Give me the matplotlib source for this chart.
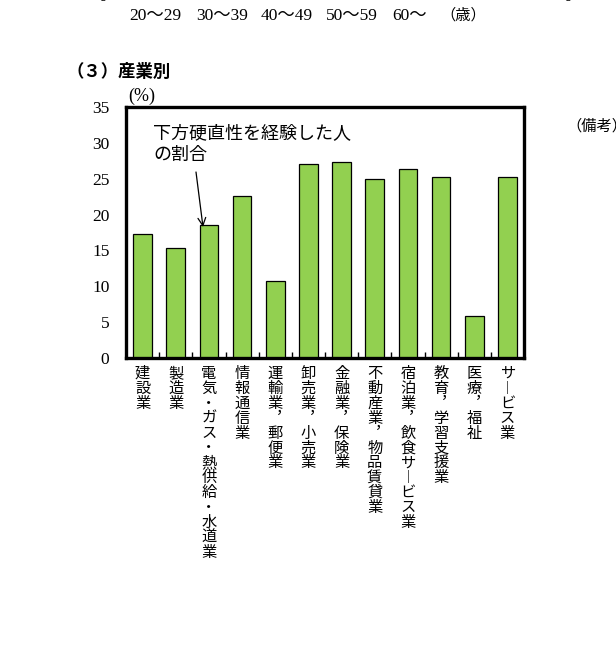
import matplotlib
matplotlib.use("Agg")
import matplotlib.pyplot as plt
import numpy as np

# ---- data ----
industries = ["建設業", "製造業", "電気・ガス・熱供給・水道業", "情報通信業",
              "運輸業，郵便業", "卸売業，小売業", "金融業，保険業",
              "不動産業，物品賃貸業", "宿泊業，飲食サービス業",
              "教育，学習支援業", "医療，福祉", "サービス業"]
share = [17.3, 15.3, 18.6, 22.6, 10.8, 27.0, 27.3, 25.0, 26.3, 25.3, 5.9, 25.3]
yticks = [0, 5, 10, 15, 20, 25, 30, 35]
age_labels = ["20～29", "30～39", "40～49", "50～59", "60～"]

CJK = ["Noto Sans CJK JP", "DejaVu Sans"]
SERIF = ["Liberation Serif", "Noto Sans CJK JP", "DejaVu Serif"]

W, H = 616, 649
fig = plt.figure(figsize=(W / 100, H / 100), dpi=100)

def fx(px):
    return px / W

def fy(py):
    return 1 - py / H

ax = fig.add_axes([fx(126), fy(358), fx(524) - fx(126), fy(107) - fy(358)])

x = np.arange(len(share))
ax.bar(x, share, width=0.56, color="#92D050", edgecolor="black", linewidth=0.9, zorder=2)
ax.set_xlim(-0.5, len(share) - 0.5)
ax.set_ylim(0, 35)
ax.set_yticks(yticks)
ax.set_yticklabels([str(v) for v in yticks], family=SERIF, fontsize=12.5)
ax.tick_params(axis="y", length=0, pad=12)
ax.set_xticks([])
ax.set_xticks(np.arange(0.5, len(share) - 0.5, 1.0), minor=True)
ax.tick_params(axis="x", which="minor", direction="in", length=4, width=1.0)
for s in ax.spines.values():
    s.set_linewidth(2.4)

# vertical category labels: one multi-line text per category,
# with line spacing solved so the character pitch is ~14.9 px
VMAP = {"，": "︐", "ー": "︱"}
def vert(s):
    return "\n".join(VMAP.get(c, c) for c in s)

LABEL_FS = 11
PITCH_PX = 14.9
renderer = fig.canvas.get_renderer()

def measure(ls, n=13):
    t = fig.text(0.5, 0.5, "\n".join(["建"] * n), family=CJK, fontsize=LABEL_FS,
                 linespacing=ls)
    h = t.get_window_extent(renderer).height
    t.remove()
    return h

h1, h2 = measure(1.0), measure(2.0)
h1b = measure(1.0, 12)
h2b = measure(2.0, 12)
step1, step2 = h1 - h1b, h2 - h2b
ls = 1.0 + (PITCH_PX - step1) / (step2 - step1)

for i, lab in enumerate(industries):
    ax.annotate(vert(lab), xy=(i, 0), xycoords=("data", "axes fraction"),
                xytext=(0, -7 * 0.72), textcoords="offset points",
                ha="center", va="top", family=CJK, fontsize=LABEL_FS,
                linespacing=ls, annotation_clip=False)

# annotation
fig.text(fx(153), fy(124), "下方硬直性を経験した人\nの割合", ha="left", va="top",
         family=CJK, fontsize=13, linespacing=1.25)
ax.annotate("", xy=(fx(203), fy(227)), xycoords="figure fraction",
            xytext=(fx(196), fy(172)), textcoords="figure fraction",
            arrowprops=dict(arrowstyle="->", color="black", lw=0.9,
                            mutation_scale=14, shrinkA=0, shrinkB=0))

# titles and surrounding texts
fig.text(fx(67), fy(72), "（３）産業別", ha="left", va="center", family=CJK,
         fontsize=12.5, fontweight="bold")
fig.text(fx(142), fy(96), "(%)", ha="center", va="center", family=SERIF, fontsize=13)
fig.text(fx(566), fy(126), "（備考）", ha="left", va="center", family=CJK, fontsize=11)

# remnants of the chart above
age_x = [155, 222, 287, 352, 410]
for cx, lab in zip(age_x, age_labels):
    fig.text(fx(cx), fy(16), lab, ha="center", va="center", family=SERIF, fontsize=12.5)
fig.text(fx(463), fy(15), "（歳）", ha="center", va="center", family=CJK, fontsize=11)
fig.text(fx(103), fy(-3), "0", ha="center", va="center", family=SERIF, fontsize=12.5)
fig.text(fx(568), fy(-3), "0", ha="center", va="center", family=SERIF, fontsize=12.5)

fig.savefig("out.png", dpi=100)
